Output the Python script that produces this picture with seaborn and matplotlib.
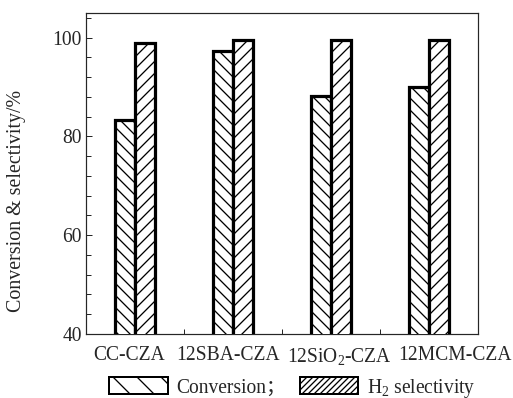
import matplotlib
matplotlib.use("Agg")
import matplotlib.pyplot as plt
import matplotlib.transforms as mtransforms
import seaborn as sns
import pandas as pd
from matplotlib.ticker import MultipleLocator, FixedLocator

catalysts = ["CC-CZA", "12SBA-CZA", "12SiO2-CZA", "12MCM-CZA"]
tick_labels = ["CC-CZA", "12SBA-CZA", "12SiO$_2$-CZA", "12MCM-CZA"]
conversion = [83.4, 97.3, 88.1, 90.1]
selectivity = [99.0, 99.6, 99.6, 99.6]
series_names = ["Conversion；", "H$_2$ selectivity"]

sns.set_style("ticks")
plt.rcParams["font.family"] = ["Liberation Serif", "Noto Sans CJK SC"]
plt.rcParams["mathtext.fontset"] = "custom"
plt.rcParams["mathtext.rm"] = "Liberation Serif"
plt.rcParams["mathtext.it"] = "Liberation Serif:italic"
plt.rcParams["hatch.linewidth"] = 1.3
plt.rcParams["hatch.color"] = "black"

df = pd.DataFrame({
    "catalyst": catalysts * 2,
    "value": conversion + selectivity,
    "series": [series_names[0]] * len(catalysts) + [series_names[1]] * len(catalysts),
})

fig = plt.figure(figsize=(513 / 72, 398 / 72), dpi=72)
ax = fig.add_axes([86 / 513, 1 - 334 / 398, (478 - 86) / 513, (334 - 13) / 398])

sns.barplot(data=df, x="catalyst", y="value", hue="series", order=catalysts,
            hue_order=series_names, palette=["white", "white"], edgecolor="black",
            linewidth=3.2, width=0.41, gap=0, ax=ax, legend=False, zorder=3)

bar_hatches = ["\\\\", "//"]
for cont, h in zip(ax.containers, bar_hatches):
    for bar in cont:
        bar.set_hatch(h)

ax.set_ylim(40, 105)
ax.set_xlim(-0.5, 3.5)
ax.yaxis.set_major_locator(MultipleLocator(20))
ax.yaxis.set_minor_locator(MultipleLocator(4))
ax.xaxis.set_minor_locator(FixedLocator([0.5, 1.5, 2.5]))
ax.set_xticks(range(len(catalysts)))
ax.set_xticklabels(tick_labels)
ax.tick_params(axis="y", which="major", direction="in", length=6, width=1, labelsize=19.5, pad=4)
ax.tick_params(axis="y", which="minor", direction="in", length=5, width=1)
ax.tick_params(axis="x", which="major", direction="in", length=0, labelsize=19.5, pad=12)
ax.tick_params(axis="x", which="minor", direction="in", length=5, width=1)
label_shift = [-6, -5, 8, 26]
for lab, dx in zip(ax.get_xticklabels(), label_shift):
    lab.set_transform(lab.get_transform() +
                      mtransforms.ScaledTranslation(dx / 72, 0, fig.dpi_scale_trans))
for s in ax.spines.values():
    s.set_linewidth(1.2)
    s.set_visible(True)
ax.set_xlabel("")
ax.set_ylabel("Conversion & selectivity/%", fontsize=20, rotation=90, ha="center", va="center")
ax.yaxis.set_label_coords((17 - 86) / 392, (334 - 201) / 321)

legend_hatches = ["\\", "////"]
handles = [plt.Rectangle((0, 0), 1, 1, facecolor="white", edgecolor="black",
                         linewidth=2.0, hatch=h) for h in legend_hatches]
fig.legend(handles, series_names, loc="center", bbox_to_anchor=(0.57, 0.025),
           ncol=2, frameon=False, fontsize=19.5, handlelength=3.0, handleheight=0.95,
           handletextpad=0.45, columnspacing=0.7, borderpad=0)

fig.savefig("out.png", dpi=72)
